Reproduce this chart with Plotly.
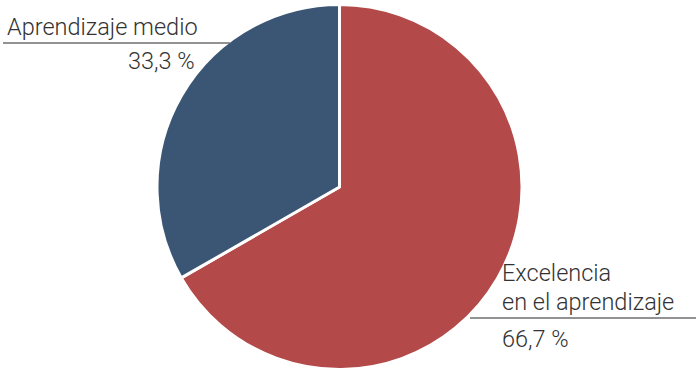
import plotly.graph_objects as go

W, H = 696, 372

# Slice data (clockwise from 12 o'clock)
categories = ["Excelencia en el aprendizaje", "Aprendizaje medio"]
shares = [66.7, 33.3]
colors = ["#b34a49", "#3b5675"]

FONT = "Roboto"
TEXT_COLOR = "#333333"
LINE_COLOR = "#6e6e6e"


def px(x):
    return x / W


def py(y):
    return 1 - y / H


fig = go.Figure(
    go.Pie(
        labels=categories,
        values=shares,
        sort=False,
        direction="clockwise",
        rotation=0,
        marker=dict(colors=colors, line=dict(color="white", width=3)),
        textinfo="none",
        hoverinfo="label+percent",
        showlegend=False,
        domain=dict(x=[px(157), px(522)], y=[py(369.5), py(4.5)]),
    )
)


def fmt(v):
    return f"{v:.1f}".replace(".", ",") + " %"


annotations = [
    # left label
    dict(text="Aprendizaje medio", x=px(6), y=py(27), xanchor="left"),
    dict(text=fmt(shares[1]), x=px(196), y=py(61), xanchor="right"),
    # right label
    dict(text="Excelencia", x=px(501), y=py(273), xanchor="left"),
    dict(text="en el aprendizaje", x=px(501), y=py(302), xanchor="left"),
    dict(text=fmt(shares[0]), x=px(501), y=py(339), xanchor="left"),
]
for a in annotations:
    a.update(xref="paper", yref="paper", yanchor="middle", showarrow=False,
             font=dict(family=FONT, size=23.5, weight=300, color=TEXT_COLOR), borderpad=0)

shapes = [
    dict(type="line", xref="paper", yref="paper", x0=px(3), x1=px(230), y0=py(43), y1=py(43),
         line=dict(color=LINE_COLOR, width=1.5)),
    dict(type="line", xref="paper", yref="paper", x0=px(470), x1=px(696), y0=py(318), y1=py(318),
         line=dict(color=LINE_COLOR, width=1.5)),
]

fig.update_layout(
    width=W, height=H,
    margin=dict(l=0, r=0, t=0, b=0),
    paper_bgcolor="white", plot_bgcolor="white",
    annotations=annotations, shapes=shapes,
)

fig.write_html("out.html")
